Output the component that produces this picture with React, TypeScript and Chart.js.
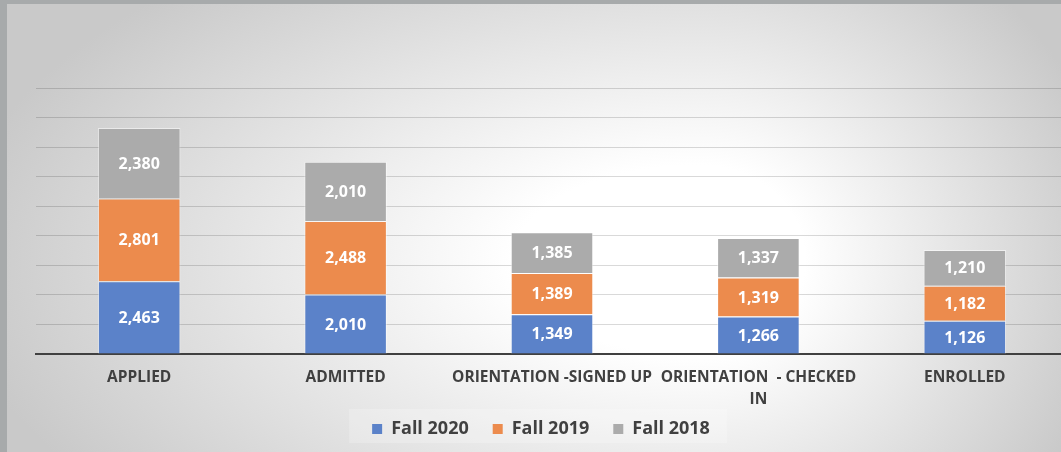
import React, { useEffect, useRef } from 'react';
import { Chart, registerables } from 'chart.js';

Chart.register(...registerables);

const categories: (string | string[])[] = [
  'APPLIED',
  'ADMITTED',
  'ORIENTATION -SIGNED UP',
  ['ORIENTATION  - CHECKED', 'IN'],
  'ENROLLED',
];
const fall2020 = [2463, 2010, 1349, 1266, 1126];
const fall2019 = [2801, 2488, 1389, 1319, 1182];
const fall2018 = [2380, 2010, 1385, 1337, 1210];
const seriesLabels = ['Fall 2020', 'Fall 2019', 'Fall 2018'];
const seriesColors = ['#5B82C9', '#EC8B4D', '#ABABAB'];
const yMax = 9000;
const yStep = 1000;

const FONT = "'Open Sans', 'DejaVu Sans', sans-serif";

const backgroundPlugin = {
  id: 'panelBackground',
  beforeDraw(chart: any) {
    // let the two-line category label extend below the axis box
    if (chart.scales && chart.scales.x) {
      chart.scales.x._computeLabelArea = () => undefined;
    }
    const ctx = chart.ctx as CanvasRenderingContext2D;
    const W = chart.width;
    const H = chart.height;
    ctx.save();
    ctx.fillStyle = '#A7AAAB';
    ctx.fillRect(0, 0, W, H);
    const cx = 700;
    const cy = 260;
    const R = 380;
    const half = (x0: number, x1: number, rx: number) => {
      ctx.save();
      ctx.beginPath();
      ctx.rect(x0, 4, x1 - x0, H - 4);
      ctx.clip();
      ctx.translate(cx, cy);
      ctx.scale(rx / R, 1);
      const g = ctx.createRadialGradient(0, 0, 0, 0, 0, R);
      g.addColorStop(0, '#FFFFFF');
      g.addColorStop(0.25, '#FFFFFF');
      g.addColorStop(1, '#C9C9C9');
      ctx.fillStyle = g;
      ctx.fillRect(-5000, -2000, 10000, 4000);
      ctx.restore();
    };
    half(7, cx, 750);
    half(cx, W, 420);

    // legend backdrop
    const boxes = chart.legend && chart.legend.legendHitBoxes;
    if (boxes && boxes.length) {
      const first = boxes[0];
      const last = boxes[boxes.length - 1];
      const left = first.left - 23;
      const right = last.left + last.width + 17;
      ctx.fillStyle = 'rgba(255,255,255,0.22)';
      ctx.fillRect(left, first.top - 11, right - left, first.height + 16);
    }
    ctx.restore();
  },
};

const dataLabelPlugin = {
  id: 'segmentLabels',
  afterDatasetsDraw(chart: any) {
    const ctx = chart.ctx as CanvasRenderingContext2D;
    ctx.save();
    ctx.font = `bold 16px ${FONT}`;
    ctx.fillStyle = '#FFFFFF';
    ctx.textAlign = 'center';
    ctx.textBaseline = 'middle';
    chart.data.datasets.forEach((ds: any, i: number) => {
      const meta = chart.getDatasetMeta(i);
      meta.data.forEach((bar: any, j: number) => {
        const v = ds.data[j] as number;
        ctx.fillText(v.toLocaleString('en-US'), bar.x, (bar.y + bar.base) / 2 + 1);
      });
    });
    ctx.restore();
  },
};

export default function App() {
  const ref = useRef<HTMLCanvasElement>(null);

  useEffect(() => {
    if (!ref.current) return;
    const series = [fall2020, fall2019, fall2018];
    const chart = new Chart(ref.current, {
      type: 'bar',
      data: {
        labels: categories as any,
        datasets: series.map((d, i) => ({
          label: seriesLabels[i],
          data: d,
          backgroundColor: seriesColors[i],
          borderColor: 'rgba(255,255,255,0.5)',
          borderWidth: 1,
          barPercentage: 0.4,
          categoryPercentage: 1,
        })),
      },
      options: {
        responsive: false,
        devicePixelRatio: 1,
        animation: false,
        layout: { padding: { top: 88, bottom: 4, left: 14, right: 0 } },
        plugins: {
          tooltip: { enabled: false },
          legend: {
            display: true,
            position: 'bottom',
            labels: {
              boxWidth: 10,
              boxHeight: 10,
              padding: 24,
              color: '#404040',
              font: { family: FONT, size: 18, weight: 'bold' },
              generateLabels: (c: any) =>
                Chart.defaults.plugins.legend.labels
                  .generateLabels(c)
                  .map((l: any) => ({ ...l, lineWidth: 0 })),
            },
          },
        },
        scales: {
          x: {
            stacked: true,
            grid: { display: false, drawTicks: false },
            border: { display: true, color: '#404040', width: 2 },
            ticks: {
              color: '#404040',
              font: { family: FONT, size: 15.5, weight: 'bold', lineHeight: 1.42 },
              padding: 13,
              maxRotation: 0,
              minRotation: 0,
              autoSkip: false,
            },
            afterFit: (s: any) => {
              s.height = 42;
            },
          },
          y: {
            stacked: true,
            min: 0,
            max: yMax,
            ticks: { display: false, stepSize: yStep },
            grid: { color: 'rgba(0,0,0,0.15)', lineWidth: 1, drawTicks: false },
            border: { display: false },
            afterFit: (s: any) => {
              s.width = 22;
            },
          },
        },
      } as any,
      plugins: [backgroundPlugin, dataLabelPlugin],
    });
    return () => chart.destroy();
  }, []);

  return (
    <div
      style={{
        position: 'fixed',
        left: 0,
        top: 0,
        width: 1061,
        height: 452,
        overflow: 'hidden',
      }}
    >
      <canvas
        ref={ref}
        width={1068}
        height={452}
        style={{ display: 'block', width: 1068, height: 452 }}
      />
    </div>
  );
}
